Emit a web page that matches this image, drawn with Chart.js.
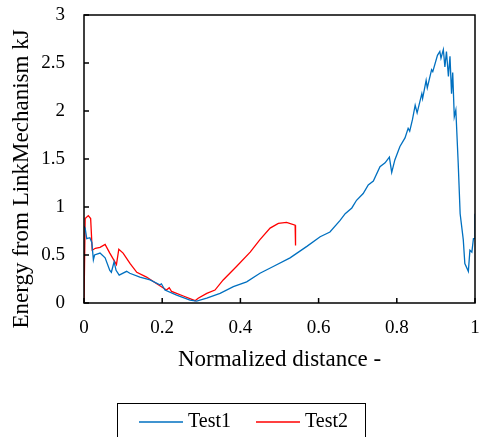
<!DOCTYPE html>
<html>
<head>
<meta charset="utf-8">
<script src="https://cdn.jsdelivr.net/npm/chart.js@4/dist/chart.umd.min.js"></script>
<style>
  html, body { margin: 0; padding: 0; background: #fff; }
  #wrap { width: 479px; height: 437px; }
</style>
</head>
<body>
<div id="wrap"><canvas id="c" width="479" height="437"></canvas></div>
<script>
const seriesNames = ['Test1', 'Test2'];
const yTitle = 'Energy from LinkMechanism kJ';
const xTitle = 'Normalized distance -';
const test1X = [0, 0.003, 0.007, 0.015, 0.02, 0.024, 0.027, 0.041, 0.054, 0.066, 0.07, 0.077, 0.082, 0.09, 0.109, 0.117, 0.143, 0.169, 0.194, 0.198, 0.207, 0.237, 0.271, 0.288, 0.314, 0.348, 0.382, 0.416, 0.45, 0.484, 0.527, 0.57, 0.604, 0.629, 0.655, 0.668, 0.685, 0.697, 0.714, 0.727, 0.74, 0.757, 0.77, 0.781, 0.787, 0.795, 0.808, 0.821, 0.829, 0.833, 0.84, 0.847, 0.852, 0.864, 0.866, 0.875, 0.878, 0.889, 0.892, 0.904, 0.91, 0.913, 0.919, 0.923, 0.927, 0.932, 0.936, 0.94, 0.943, 0.947, 0.951, 0.957, 0.962, 0.97, 0.974, 0.983, 0.987, 0.992, 0.996, 1.0, 1.0];
const test1Y = [0.80, 0.78, 0.67, 0.68, 0.63, 0.45, 0.50, 0.52, 0.47, 0.34, 0.32, 0.43, 0.34, 0.29, 0.33, 0.31, 0.27, 0.24, 0.19, 0.20, 0.135, 0.083, 0.031, 0.02, 0.05, 0.10, 0.17, 0.22, 0.31, 0.38, 0.47, 0.59, 0.69, 0.74, 0.86, 0.93, 0.99, 1.07, 1.14, 1.23, 1.27, 1.42, 1.46, 1.52, 1.36, 1.49, 1.63, 1.72, 1.82, 1.79, 1.91, 2.06, 1.98, 2.18, 2.13, 2.32, 2.24, 2.43, 2.41, 2.58, 2.62, 2.55, 2.64, 2.46, 2.62, 2.36, 2.57, 2.18, 2.40, 1.94, 2.01, 1.46, 0.93, 0.66, 0.41, 0.33, 0.55, 0.53, 0.67, 0.67, 0.93];
const test2X = [0, 0.003, 0.011, 0.017, 0.021, 0.029, 0.041, 0.054, 0.066, 0.083, 0.089, 0.1, 0.118, 0.135, 0.16, 0.186, 0.211, 0.218, 0.224, 0.254, 0.284, 0.292, 0.314, 0.335, 0.356, 0.39, 0.425, 0.45, 0.476, 0.497, 0.518, 0.54, 0.541];
const test2Y = [0, 0.88, 0.91, 0.88, 0.55, 0.57, 0.58, 0.61, 0.52, 0.40, 0.56, 0.52, 0.41, 0.32, 0.27, 0.20, 0.135, 0.16, 0.12, 0.073, 0.024, 0.05, 0.10, 0.135, 0.24, 0.38, 0.53, 0.66, 0.78, 0.83, 0.84, 0.81, 0.60];
const colors = ['#0070C0', '#FF0000'];

const serif = "'Liberation Serif', 'Times New Roman', serif";

function pts(xs, ys) { return xs.map((x, i) => ({ x, y: ys[i] })); }

// frame, inner ticks, y title and boxed legend
const framePlugin = {
  id: 'frame',
  afterDraw(chart) {
    const { ctx, chartArea: a, scales } = chart;
    ctx.save();
    ctx.strokeStyle = '#000';
    ctx.lineWidth = 1.5;
    ctx.strokeRect(a.left, a.top, a.right - a.left, a.bottom - a.top);
    ctx.beginPath();
    scales.x.ticks.forEach(t => {
      const px = scales.x.getPixelForValue(t.value);
      ctx.moveTo(px, a.bottom); ctx.lineTo(px, a.bottom - 5);
    });
    scales.y.ticks.forEach(t => {
      const py = scales.y.getPixelForValue(t.value);
      ctx.moveTo(a.left, py); ctx.lineTo(a.left + 5, py);
    });
    ctx.stroke();

    // y title (sits lower than the plot centre in the original)
    ctx.fillStyle = '#000';
    ctx.font = '23px ' + serif;
    ctx.textAlign = 'center';
    ctx.textBaseline = 'middle';
    ctx.save();
    ctx.translate(22, 179);
    ctx.rotate(-Math.PI / 2);
    ctx.fillText(yTitle, 0, 0);
    ctx.restore();

    // legend
    ctx.lineWidth = 1;
    ctx.strokeRect(117.5, 403.5, 248, 40);
    ctx.font = '20px ' + serif;
    ctx.textAlign = 'left';
    const starts = [139, 256];
    chart.data.datasets.forEach((ds, i) => {
      ctx.strokeStyle = ds.borderColor;
      ctx.lineWidth = 1.3;
      ctx.beginPath();
      ctx.moveTo(starts[i], 422); ctx.lineTo(starts[i] + 44, 422);
      ctx.stroke();
      ctx.fillText(ds.label, starts[i] + 49, 422);
    });
    ctx.restore();
  }
};

new Chart(document.getElementById('c'), {
  type: 'line',
  data: {
    datasets: [
      { label: seriesNames[0], data: pts(test1X, test1Y), borderColor: colors[0], borderWidth: 1.3, pointRadius: 0, tension: 0, fill: false },
      { label: seriesNames[1], data: pts(test2X, test2Y), borderColor: colors[1], borderWidth: 1.3, pointRadius: 0, tension: 0, fill: false }
    ]
  },
  options: {
    responsive: false,
    animation: false,
    layout: { padding: { top: 15, right: 4, bottom: 62, left: 0 } },
    plugins: { legend: { display: false }, tooltip: { enabled: false } },
    scales: {
      x: {
        type: 'linear', min: 0, max: 1,
        grid: { display: false, drawTicks: false },
        border: { display: false },
        ticks: { stepSize: 0.2, padding: 14, color: '#000', font: { family: serif, size: 19 }, maxRotation: 0,
          callback: v => String(Math.round(v * 10) / 10) },
        title: { display: true, text: xTitle, color: '#000', font: { family: serif, size: 23 }, padding: { top: 0, bottom: 1 } },
        afterFit: s => { s.height = 72; s.paddingLeft = 0; s.paddingRight = 0; }
      },
      y: {
        min: 0, max: 3,
        grid: { display: false, drawTicks: false },
        border: { display: false },
        ticks: { stepSize: 0.5, padding: 19, color: '#000', font: { family: serif, size: 19 },
          callback: v => String(v) },
        title: { display: false },
        afterFit: s => { s.width = 84; s.paddingTop = 0; s.paddingBottom = 0; }
      }
    }
  },
  plugins: [framePlugin]
});
</script>
</body>
</html>
